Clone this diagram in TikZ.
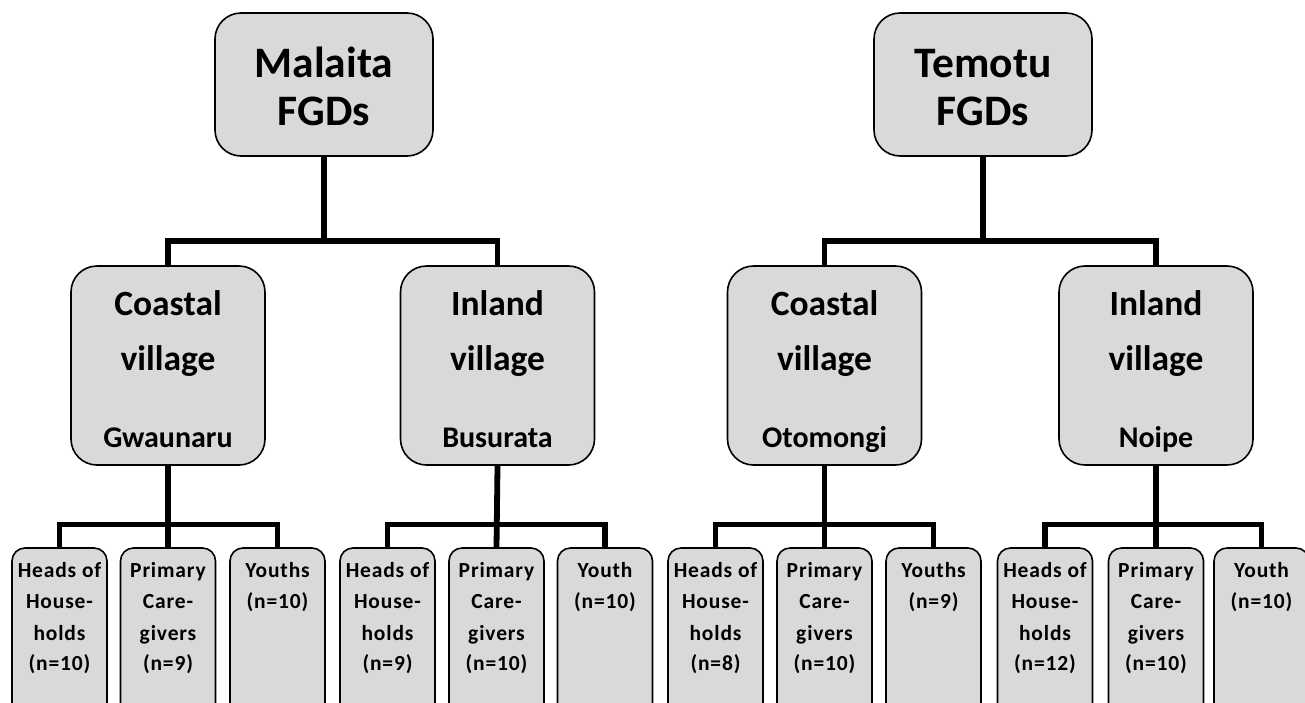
\documentclass[tikz,border=0pt]{standalone}
\usepackage{fontspec}
\setmainfont{Carlito}
\newfontfamily\leaffont[LetterSpace=4]{Carlito}
\definecolor{boxgray}{HTML}{D9D9D9}
\begin{document}
\begin{tikzpicture}[x=1pt,y=-1pt,
  boxbase/.style={draw=black, line width=1.6pt, fill=boxgray, inner sep=0pt},
  topbox/.style={boxbase, rounded corners=26pt, minimum width=218pt, minimum height=143pt},
  midbox/.style={boxbase, rounded corners=26pt, minimum width=194pt, minimum height=199pt},
  leafbox/.style={boxbase, rounded corners=13pt, minimum width=95pt, minimum height=192pt},
  conn/.style={line width=5.8pt, line join=miter},
  ttext/.style={anchor=base, inner sep=0pt, font=\fontsize{43.5}{48}\selectfont\bfseries},
  mtext/.style={anchor=base, inner sep=0pt, font=\fontsize{35.5}{40}\selectfont\bfseries},
  ntext/.style={anchor=base, inner sep=0pt, font=\fontsize{30}{34}\selectfont\bfseries},
  ltext/.style={anchor=base, inner sep=0pt, font=\leaffont\fontsize{21.5}{24}\selectfont\bfseries}
]
\useasboundingbox (0,0) rectangle (1305,702);
\clip (0,0) rectangle (1305,702);

% top boxes
\node[topbox] (mal) at (324,84.5) {};
\node[topbox] (tem) at (983,84.5) {};
\node[ttext] (malA) at (324,77) {Malaita};
\node[ttext] (malB) at (324,125) {FGDs};
\node[ttext] (temA) at (983,77) {Temotu};
\node[ttext] (temB) at (983,125) {FGDs};

% mid boxes
\node[midbox] (gwa) at (168,365.5) {};
\node[midbox] (bus) at (497.5,365.5) {};
\node[midbox] (oto) at (824.5,365.5) {};
\node[midbox] (noi) at (1156,365.5) {};
\foreach \n/\x/\a/\c in {gwaT/168/Coastal/Gwaunaru, busT/497.5/Inland/Busurata, otoT/824.5/Coastal/Otomongi, noiT/1156/Inland/Noipe}{
  \node[mtext] (\n a) at (\x,315) {\a};
  \node[mtext] (\n b) at (\x,370) {village};
  \node[ntext] (\n c) at (\x,447) {\c};
}

% leaf boxes
\foreach \n/\x in {g1/59.5, g2/168, g3/277.5, b1/387.5, b2/496.5, b3/605, o1/715.5, o2/824.5, o3/933.5, n1/1045, n2/1156, n3/1261.5}{
  \node[leafbox] (\n) at (\x,644) {};
}

% leaf texts
\foreach \n/\x/\k in {g1/59.5/10, b1/387.5/9, o1/715.5/8, n1/1045/12}{
  \node[ltext] (\n a) at (\x,577) {Heads of};
  \node[ltext] (\n b) at (\x,608) {House-};
  \node[ltext] (\n c) at (\x,640) {holds};
  \node[ltext] (\n d) at (\x,670) {(n=\k)};
}
\foreach \n/\x/\k in {g2/168/9, b2/496.5/10, o2/824.5/10, n2/1156/10}{
  \node[ltext] (\n a) at (\x,577) {Primary};
  \node[ltext] (\n b) at (\x,608) {Care-};
  \node[ltext] (\n c) at (\x,640) {givers};
  \node[ltext] (\n d) at (\x,670) {(n=\k)};
}
\foreach \n/\x/\w/\k in {g3/277.5/Youths/10, b3/605/Youth/10, o3/933.5/Youths/9, n3/1261.5/Youth/10}{
  \node[ltext] (\n a) at (\x,577) {\w};
  \node[ltext] (\n b) at (\x,608) {(n=\k)};
}

% connectors
\coordinate (mj) at (324,241);
\coordinate (tj) at (983,241);
\draw[conn] (mal.south) -- (mj);
\draw[conn] (gwa.north) |- (mj) -| (bus.north);
\draw[conn] (tem.south) -- (tj);
\draw[conn] (oto.north) |- (tj) -| (noi.north);

\foreach \p/\a/\b/\c in {gwa/g1/g2/g3, bus/b1/b2/b3, oto/o1/o2/o3, noi/n1/n2/n3}{
  \coordinate (\p j) at (\p.south |- 0,524.5);
  \draw[conn] (\p.south) -- (\b.north);
  \draw[conn] (\a.north) |- (\p j) -| (\c.north);
}
\end{tikzpicture}
\end{document}
